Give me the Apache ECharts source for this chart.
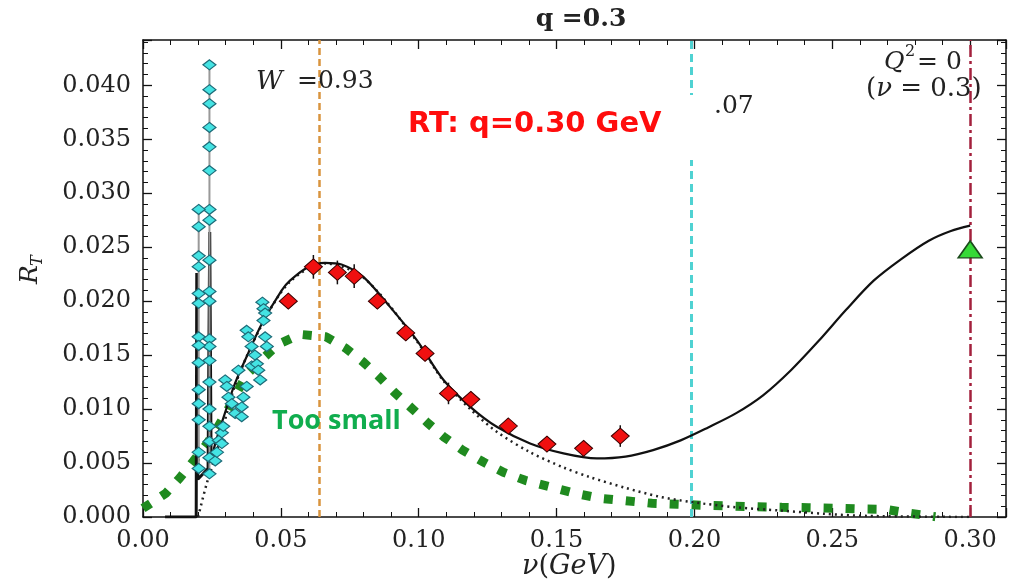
<!DOCTYPE html>
<html>
<head>
<meta charset="utf-8">
<script src="https://cdn.jsdelivr.net/npm/echarts@6/dist/echarts.min.js"></script>
<style>
  html, body { margin: 0; padding: 0; background: #fff; }
  #main { width: 1036px; height: 588px; }
</style>
</head>
<body>
<div id="main"></div>
<script>
// ---- data (nu in GeV, R_T) ----
const xTicks = [0.00, 0.05, 0.10, 0.15, 0.20, 0.25, 0.30];
const yTicks = [0.000, 0.005, 0.010, 0.015, 0.020, 0.025, 0.030, 0.035, 0.040];

// solid theory curve, resonance spikes at threshold
const theorySpikes = [
  [0.008, 0], [0.0193, 0], [0.0195, 0.0226], [0.0199, 0.0035],
  [0.0236, 0.0045], [0.0242, 0.0264], [0.0247, 0.005]
];
// solid theory curve, smooth part
const theoryCurve = [
  [0.0247, 0.0050], [0.0262, 0.0068], [0.0298, 0.0097], [0.0334, 0.0124],
  [0.0382, 0.0152], [0.0431, 0.0179], [0.0503, 0.0210], [0.0533, 0.0219],
  [0.0595, 0.0231], [0.0660, 0.02355], [0.0720, 0.0234], [0.0799, 0.02225],
  [0.0896, 0.01947], [0.0993, 0.01639], [0.1090, 0.01269], [0.1187, 0.01021],
  [0.1283, 0.00836], [0.1404, 0.00682], [0.1525, 0.0059], [0.1646, 0.00543],
  [0.1750, 0.0056], [0.1850, 0.0062], [0.1950, 0.0071], [0.2050, 0.0083],
  [0.2150, 0.0096], [0.2250, 0.0113], [0.2350, 0.0136], [0.2450, 0.0163],
  [0.2550, 0.0192], [0.2650, 0.0219], [0.2750, 0.0239], [0.2850, 0.0256],
  [0.2930, 0.0265], [0.3000, 0.0270]
];
// dotted curve
const dottedCurve = [
  [0.0200, 0], [0.0230, 0.0030], [0.0267, 0.0060], [0.0334, 0.0122],
  [0.0431, 0.0178], [0.0533, 0.0218], [0.0660, 0.0235], [0.0799, 0.0222],
  [0.0993, 0.0163], [0.1090, 0.0126], [0.1187, 0.0100], [0.1283, 0.0079],
  [0.1404, 0.0060], [0.1524, 0.0046], [0.1620, 0.0037], [0.1750, 0.0027],
  [0.1870, 0.0019], [0.1985, 0.0014], [0.2150, 0.0009], [0.2311, 0.0006],
  [0.2470, 0.0003], [0.2626, 0.0001], [0.3000, 0]
];
// green "too small" curve
const greenCurve = [
  [0.0000, 0.0008], [0.0083, 0.0022], [0.0134, 0.00364], [0.0183, 0.00519],
  [0.0231, 0.00676], [0.0270, 0.00827], [0.0306, 0.00984], [0.0340, 0.0115],
  [0.0376, 0.01321], [0.0431, 0.0146], [0.0491, 0.0160], [0.0570, 0.01692],
  [0.0664, 0.0167], [0.0733, 0.01568], [0.0799, 0.01435], [0.0857, 0.01299],
  [0.0911, 0.01157], [0.0969, 0.01021], [0.1029, 0.0088], [0.1090, 0.00744],
  [0.1159, 0.0062], [0.1233, 0.00512], [0.1307, 0.00414], [0.1386, 0.0034],
  [0.1477, 0.0028], [0.1567, 0.0022], [0.1658, 0.00173], [0.1749, 0.00151],
  [0.1846, 0.00127], [0.1938, 0.00118], [0.2036, 0.00108], [0.2130, 0.00102],
  [0.2221, 0.00095], [0.2317, 0.0009], [0.2413, 0.00086], [0.2507, 0.00081],
  [0.2602, 0.00074], [0.2692, 0.00071], [0.2783, 0.00034], [0.2874, 0.00003]
];
// red data points with errors
const redPoints = [
  [0.0527, 0.0200], [0.0618, 0.02318], [0.0705, 0.02266], [0.0766, 0.02231],
  [0.0850, 0.0200], [0.0953, 0.01706], [0.1023, 0.01516], [0.1108, 0.01145],
  [0.1189, 0.0109], [0.1325, 0.00843], [0.1465, 0.00676], [0.1598, 0.00636],
  [0.1731, 0.0075]
];
const redErrors = [0.0007, 0.0011, 0.0011, 0.0011, 0.0007, 0.0007, 0.0007,
                   0.0010, 0.0007, 0.0007, 0.0007, 0.0007, 0.0010];
// cyan data points near threshold
const cyanPoints = [
  [0.0241, 0.0419], [0.0241, 0.0396], [0.0241, 0.0383], [0.0241, 0.0361],
  [0.0241, 0.0343], [0.0241, 0.0321], [0.0241, 0.0285], [0.0241, 0.0275],
  [0.0241, 0.0238], [0.0241, 0.0209], [0.0241, 0.0200], [0.0241, 0.0165],
  [0.0241, 0.0158], [0.0241, 0.0145], [0.0241, 0.0125], [0.0241, 0.0100],
  [0.0241, 0.0084], [0.0241, 0.0070], [0.0241, 0.0055], [0.0241, 0.0040],
  [0.0202, 0.0285], [0.0202, 0.0269], [0.0202, 0.0242], [0.0202, 0.0232],
  [0.0202, 0.0207], [0.0202, 0.0198], [0.0202, 0.0167], [0.0202, 0.0159],
  [0.0202, 0.0143], [0.0202, 0.0118], [0.0202, 0.0105], [0.0202, 0.0090],
  [0.0202, 0.0060], [0.0202, 0.0045],
  [0.0262, 0.0052], [0.0268, 0.0060], [0.0275, 0.0071], [0.0286, 0.0068],
  [0.0286, 0.0078], [0.0291, 0.0084], [0.0298, 0.0127], [0.0304, 0.0121],
  [0.0310, 0.0111], [0.0322, 0.0105], [0.0334, 0.0096], [0.0346, 0.0136],
  [0.0358, 0.0093], [0.0358, 0.0102], [0.0364, 0.0111], [0.0376, 0.0121],
  [0.0376, 0.0173], [0.0382, 0.0167], [0.0394, 0.0158], [0.0394, 0.0140],
  [0.0406, 0.0150], [0.0413, 0.0142], [0.0418, 0.0136], [0.0425, 0.0127],
  [0.0433, 0.0199], [0.0437, 0.0193], [0.0443, 0.0189], [0.0437, 0.0182],
  [0.0443, 0.0167], [0.0449, 0.0158]
];
// gray lines joining the cyan columns
const cyanLineA = [[0.0241, 0.0040], [0.0241, 0.0419]];
const cyanLineB = [[0.0202, 0.0045], [0.0202, 0.0285]];
// photon point Q^2 = 0
const photonPoint = [[0.300, 0.0248]];
// vertical markers
const wLine1 = 0.0641;   // W = 0.93
const wLine2 = 0.1987;   // W = 1.07
const q2Line = 0.300;    // Q^2 = 0

const SERIF = '"DejaVu Serif", "Liberation Serif", serif';

const chart = echarts.init(document.getElementById('main'));

const axisCommon = {
  type: 'value',
  axisLine: { show: true, onZero: false, lineStyle: { color: '#111', width: 1.5 } },
  axisTick: { show: true, inside: true, length: 9, lineStyle: { color: '#111', width: 1.3 } },
  minorTick: { show: true, splitNumber: 5, length: 5, lineStyle: { color: '#111', width: 1 } },
  splitLine: { show: false },
  minorSplitLine: { show: false }
};

chart.setOption({
  animation: false,
  backgroundColor: '#fff',
  title: {
    text: 'q =0.3',
    left: 576, top: 2, textAlign: 'center',
    textStyle: { fontFamily: SERIF, fontWeight: 'bold', fontSize: 25, color: '#222' }
  },
  grid: { left: 143, right: 30, top: 40, bottom: 71 },
  xAxis: [
    Object.assign({}, axisCommon, {
      position: 'bottom', min: 0, max: 0.313, interval: 0.05,
      axisLabel: {
        show: true, margin: 12, color: '#222', fontFamily: SERIF, fontSize: 24,
        showMaxLabel: false,
        formatter: v => xTicks.some(t => Math.abs(t - v) < 1e-9) ? v.toFixed(2) : ''
      }
    }),
    Object.assign({}, axisCommon, {
      position: 'top', min: 0, max: 0.313, interval: 0.05,
      axisLabel: { show: false }
    })
  ],
  yAxis: [
    Object.assign({}, axisCommon, {
      position: 'left', min: 0, max: 0.0442, interval: 0.005,
      axisLabel: {
        show: true, margin: 12, color: '#222', fontFamily: SERIF, fontSize: 24,
        showMaxLabel: false,
        formatter: v => yTicks.some(t => Math.abs(t - v) < 1e-9) ? v.toFixed(3) : ''
      }
    }),
    Object.assign({}, axisCommon, {
      position: 'right', min: 0, max: 0.0442, interval: 0.005,
      axisLabel: { show: false }
    })
  ],
  graphic: [
    // white patch that hides part of the cyan line and the old label
    { type: 'rect', z: 50, shape: { x: 395, y: 95, width: 316, height: 65 },
      style: { fill: '#fff' } },
    { type: 'text', z: 60, left: 408, top: 110,
      style: { text: 'RT: q=0.30 GeV', fill: '#ff0d0d',
               font: 'bold 29px "DejaVu Sans", sans-serif' } },
    { type: 'text', z: 60, left: 714, top: 94,
      style: { text: '.07', fill: '#222', font: '25px ' + SERIF } },
    { type: 'text', z: 60, left: 272, top: 408,
      style: { text: 'Too small', fill: '#10ad4e',
               font: 'bold 27px "Open Sans", sans-serif' } },
    { type: 'text', z: 60, left: 256, top: 69,
      style: { text: 'W', fill: '#222', font: 'italic 26px ' + SERIF } },
    { type: 'text', z: 60, left: 297, top: 69,
      style: { text: '=0.93', fill: '#222', font: '25px ' + SERIF } },
    { type: 'text', z: 60, left: 884, top: 50,
      style: { text: 'Q', fill: '#222', font: 'italic 25px ' + SERIF } },
    { type: 'text', z: 60, left: 905, top: 44,
      style: { text: '2', fill: '#222', font: '16px ' + SERIF } },
    { type: 'text', z: 60, left: 917, top: 50,
      style: { text: '= 0', fill: '#222', font: '25px ' + SERIF } },
    { type: 'text', z: 60, left: 866, top: 76,
      style: {
        text: '{n|(}{i|ν}{n| = 0.3)}', fill: '#222',
        rich: {
          i: { fontFamily: SERIF, fontStyle: 'italic', fontSize: 26, fill: '#222' },
          n: { fontFamily: SERIF, fontSize: 26, fill: '#222' }
        }
      } },
    { type: 'text', z: 60, left: 522, top: 553,
      style: {
        text: '{i|ν}{n|(}{i|GeV}{n|)}', fill: '#222',
        rich: {
          i: { fontFamily: SERIF, fontStyle: 'italic', fontSize: 27, fill: '#222' },
          n: { fontFamily: SERIF, fontSize: 27, fill: '#222' }
        }
      } },
    { type: 'group', x: 32, y: 270, rotation: Math.PI / 2, z: 60,
      children: [
        { type: 'text', x: -14, y: -14,
          style: { text: 'R', fill: '#222', font: 'italic 25px ' + SERIF } },
        { type: 'text', x: 4, y: -2,
          style: { text: 'T', fill: '#222', font: 'italic 16px ' + SERIF } }
      ] }
  ],
  series: [
    {
      name: 'green', type: 'line', data: greenCurve, symbol: 'none', z: 3,
      lineStyle: { color: '#1f8a1f', width: 9, type: [9, 13], cap: 'butt' }
    },
    {
      name: 'dotted', type: 'line', data: dottedCurve, symbol: 'none', smooth: 0.3, z: 4,
      lineStyle: { color: '#222', width: 2.5, type: [2, 4] }
    },
    {
      name: 'spikes', type: 'line', data: theorySpikes, symbol: 'none', z: 5,
      lineStyle: { color: '#111', width: 3 }
    },
    {
      name: 'theory', type: 'line', data: theoryCurve, symbol: 'none', smooth: 0.3, z: 5,
      lineStyle: { color: '#111', width: 2.2 }
    },
    {
      name: 'cyanLineA', type: 'line', data: cyanLineA, symbol: 'none', z: 6,
      lineStyle: { color: '#999', width: 2 }
    },
    {
      name: 'cyanLineB', type: 'line', data: cyanLineB, symbol: 'none', z: 6,
      lineStyle: { color: '#999', width: 2 }
    },
    {
      name: 'cyan', type: 'scatter', data: cyanPoints, symbol: 'diamond',
      symbolSize: [13, 10], z: 7,
      itemStyle: { color: '#44e3e3', borderColor: '#1d6b78', borderWidth: 1.2, opacity: 1 }
    },
    {
      name: 'redErr', type: 'custom', z: 8,
      data: redPoints.map((p, i) => [p[0], p[1], redErrors[i]]),
      renderItem: (params, api) => {
        const top = api.coord([api.value(0), api.value(1) + api.value(2)]);
        const bot = api.coord([api.value(0), api.value(1) - api.value(2)]);
        return { type: 'line', shape: { x1: top[0], y1: top[1], x2: bot[0], y2: bot[1] },
                 style: { stroke: '#111', lineWidth: 1.5 } };
      }
    },
    {
      name: 'red', type: 'scatter', data: redPoints, symbol: 'diamond',
      symbolSize: [18, 16], z: 9,
      itemStyle: { color: '#f01010', borderColor: '#3a0000', borderWidth: 1, opacity: 1 },
      markLine: {
        symbol: 'none', silent: true, precision: 4, label: { show: false }, z: 4,
        data: [
          { xAxis: wLine1, lineStyle: { color: '#d9943e', width: 2.5, type: [7, 4] } },
          { xAxis: wLine2, lineStyle: { color: '#4fd2d2', width: 3, type: [8, 5] } },
          { xAxis: q2Line, lineStyle: { color: '#a3203c', width: 2.5, type: [12, 4, 3, 4] } }
        ]
      }
    },
    {
      name: 'photon', type: 'scatter', data: photonPoint, symbol: 'triangle',
      symbolSize: [24, 17], z: 10,
      itemStyle: { color: '#36d936', borderColor: '#1b4a1b', borderWidth: 1.5, opacity: 1 }
    }
  ]
});
</script>
</body>
</html>
